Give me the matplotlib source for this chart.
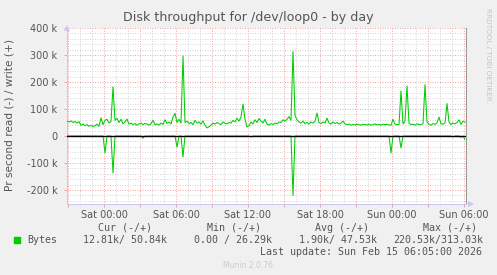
import numpy as np
import matplotlib
matplotlib.use("Agg")
import matplotlib.pyplot as plt

# write (+) and read (-) throughput, k per second, one sample every 10 minutes
# first sample is Fri 20:55, i.e. -37/12 hours from Sat 00:00
write_k = [
    55, 52, 56, 50, 54, 48, 53, 40, 44, 38,
    42, 36, 40, 35, 38, 44, 36, 67, 42, 58,
    62, 48, 55, 182, 58, 66, 50, 62, 45, 52,
    63, 44, 48, 42, 46, 40, 45, 48, 42, 47,
    44, 40, 46, 58, 42, 45, 40, 48, 43, 60,
    47, 52, 45, 70, 84, 50, 62, 48, 296, 50,
    55, 46, 50, 42, 58, 48, 52, 44, 56, 40,
    30, 34, 40, 48, 44, 50, 46, 42, 52, 47,
    45, 50, 48, 58, 52, 66, 55, 70, 118, 62,
    33, 38, 52, 45, 60, 50, 65, 55, 48, 62,
    44, 40, 46, 42, 48, 45, 52, 50, 60, 55,
    62, 72, 58, 313, 76, 60, 52, 48, 55, 46,
    50, 44, 52, 48, 55, 85, 50, 46, 52, 48,
    66, 48, 44, 52, 46, 50, 44, 48, 55, 45,
    42, 44, 40, 43, 41, 44, 42, 40, 43, 42,
    41, 44, 40, 42, 45, 41, 43, 40, 44, 42,
    43, 41, 40, 62, 44, 42, 42, 167, 45, 55,
    185, 48, 42, 44, 40, 45, 43, 42, 46, 190,
    52, 44, 40, 46, 43, 48, 70, 45, 44, 47,
    120, 52, 42, 48, 45, 50, 60, 43, 55, 51,
]
read_k = [0] * 200
read_k[19] = 63
read_k[23] = 137
read_k[38] = 8
read_k[55] = 41
read_k[58] = 78
read_k[92] = 4
read_k[113] = 220.5
read_k[162] = 63
read_k[167] = 44
read_k[193] = 3
read_k[197] = 5
read_k[199] = 13

start_h = -37 / 12
step_h = 1 / 6
hours = start_h + step_h * np.arange(len(write_k))

x_labels = ["Sat 00:00", "Sat 06:00", "Sat 12:00", "Sat 18:00", "Sun 00:00", "Sun 06:00"]
y_ticks = [-200, -100, 0, 100, 200, 300, 400]
y_labels = ["-200 k", "-100 k", "0", "100 k", "200 k", "300 k", "400 k"]

legend_head = ["Cur (-/+)", "Min (-/+)", "Avg (-/+)", "Max (-/+)"]
legend_vals = ["12.81k/ 50.84k", "0.00 / 26.29k", "1.90k/ 47.53k", "220.53k/313.03k"]

W, H = 497, 275
GREEN = "#00CC00"
TXT = "#555555"


def fx(x):
    return x / W


def fy(y):
    return 1 - y / H


fig = plt.figure(figsize=(W / 100, H / 100), dpi=100, facecolor="#F0F0F0")
ax = fig.add_axes([fx(67), fy(203.5), fx(466) - fx(67), fy(28) - fy(203.5)])
ax.set_facecolor("white")

ax.plot(hours, write_k, color=GREEN, lw=0.75, zorder=3)
ax.plot(hours, -np.array(read_k), color=GREEN, lw=0.75, zorder=3)
ax.axhline(0, color="black", lw=1.0, zorder=4)

ax.set_xlim(start_h, 362 / 12)
ax.set_ylim(-250, 400)

# grid: red major lines every 3 h / 100k, grey minor every 1 h / 20k
ax.set_xticks(np.arange(-3, 31, 3))
ax.set_xticklabels(["" if h % 6 else x_labels[int(h // 6)] for h in range(-3, 31, 3)])
ax.set_xticks(np.arange(-3, 31, 1), minor=True)
ax.set_yticks(y_ticks)
ax.set_yticklabels(y_labels)
ax.set_yticks(np.arange(-240, 401, 20), minor=True)
ax.grid(which="minor", color="#D6D6D6", lw=0.72, linestyle=(0, (1, 1.5)), zorder=1)
ax.grid(which="major", color="#F0A8A8", lw=0.72, linestyle=(0, (1, 1.5)), zorder=2)
ax.tick_params(which="major", length=2, width=0.72, color="#F0A0A0",
               labelsize=7, labelcolor=TXT)
ax.tick_params(axis="x", which="major", pad=3)
ax.tick_params(axis="y", which="major", pad=5)
ax.tick_params(which="minor", length=0)

ax.spines["top"].set_visible(False)
ax.spines["left"].set_color("#C8C8F0")
ax.spines["bottom"].set_color("#C8C8F0")
ax.spines["right"].set_color("#999999")
for s in ax.spines.values():
    s.set_linewidth(0.72)

# axis arrows
ax.plot([0], [1.0], marker="^", ms=4, color="#C8C8F0", transform=ax.transAxes,
        clip_on=False, zorder=5, markeredgewidth=0)
ax.plot([1.012], [0], marker=">", ms=4, color="#C8C8F0", transform=ax.transAxes,
        clip_on=False, zorder=5, markeredgewidth=0)

fig.text(fx(248), fy(18), "Disk throughput for /dev/loop0 - by day",
         ha="center", va="center", fontsize=9.1, color=TXT)
fig.text(fx(10), fy(115), "Pr second read (-) / write (+)", rotation=90,
         ha="center", va="center", fontsize=7.6, color=TXT)
fig.text(fx(488), fy(54), "RRDTOOL / TOBI OETIKER", rotation=270,
         ha="center", va="center", fontsize=5.2, color="#C4C4C4")

mono = dict(family="DejaVu Sans Mono", fontsize=7.2, color=TXT, va="center")
head_x = [125, 234, 342, 450]
for x, t in zip(head_x, legend_head):
    fig.text(fx(x), fy(228), t, ha="center", **mono)
val_x = [83, 194, 299, 393]
for x, t in zip(val_x, legend_vals):
    fig.text(fx(x), fy(240), t, ha="left", **mono)
fig.text(fx(27), fy(240), "Bytes", ha="left", **mono)
fig.patches.append(plt.Rectangle((fx(14), fy(242.5)), fx(5.5), fy(237) - fy(242.5),
                                 transform=fig.transFigure, color=GREEN))
fig.text(fx(482), fy(252), "Last update: Sun Feb 15 06:05:00 2026", ha="right", **mono)
fig.text(fx(248), fy(265), "Munin 2.0.76", ha="center", va="center",
         fontsize=5.5, color="#CCCCCC")

fig.savefig("out.png", dpi=100, facecolor=fig.get_facecolor())
